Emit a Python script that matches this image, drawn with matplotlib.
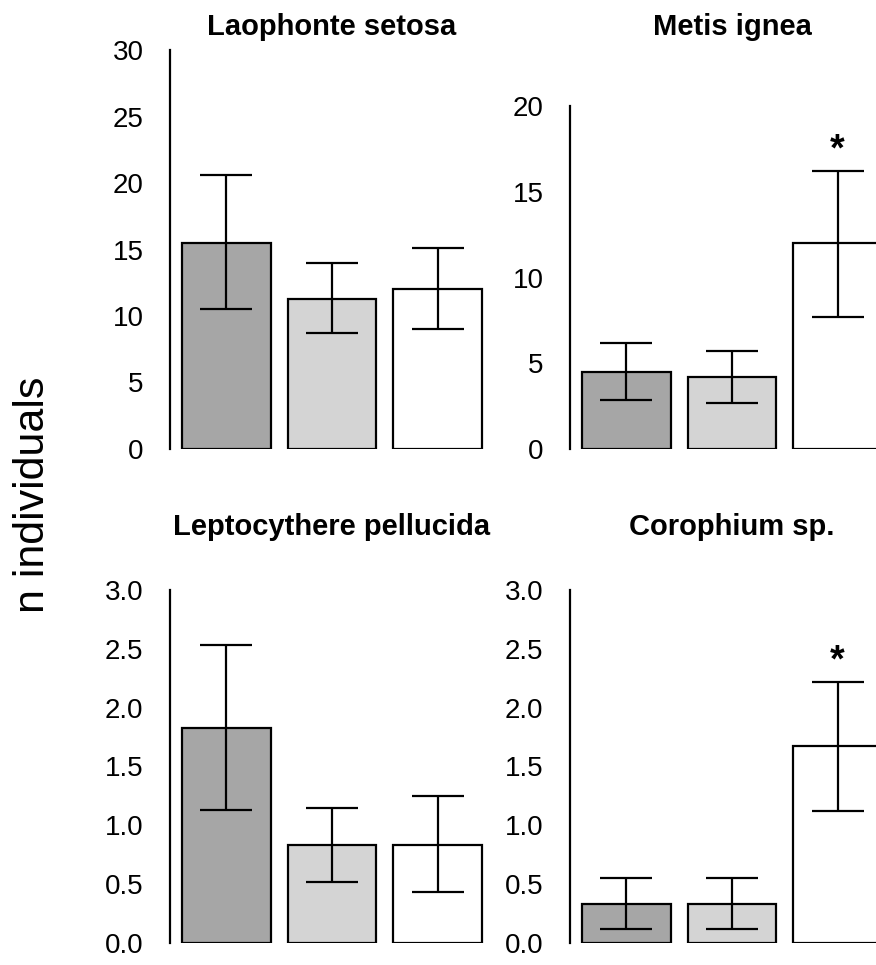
import matplotlib.pyplot as plt
import numpy as np

plt.rcParams['font.family'] = ['Liberation Sans', 'DejaVu Sans']

# data
species = ['Laophonte setosa', 'Metis ignea', 'Leptocythere pellucida', 'Corophium sp.']
means = [
    [15.5, 11.3, 12.0],
    [4.5, 4.2, 12.0],
    [1.83, 0.83, 0.83],
    [0.33, 0.33, 1.67],
]
upper = [
    [20.6, 14.0, 15.1],
    [6.2, 5.7, 16.2],
    [2.53, 1.15, 1.25],
    [0.55, 0.55, 2.22],
]
lower = [
    [10.5, 8.7, 9.0],
    [2.85, 2.7, 7.7],
    [1.13, 0.52, 0.43],
    [0.12, 0.12, 1.12],
]
ymax = [30, 20, 3.0, 3.0]
ystep = [5, 5, 0.5, 0.5]
stars = [None, 2, None, 2]
bar_colors = ['#a6a6a6', '#d4d4d4', '#ffffff']

W, H = 876, 965
fig = plt.figure(figsize=(W / 100, H / 100), dpi=100)

# axes boxes in pixels: left, zero-line y, top y
boxes = [(170, 449, 50), (570, 449, 106), (170, 943, 590), (570, 943, 590)]
ax_w = 324
title_y = [27, 27, 527, 527]

for i, name in enumerate(species):
    left, y0, ytop = boxes[i]
    ax = fig.add_axes([left / W, (H - y0) / H, ax_w / W, (y0 - ytop) / H])
    x = np.arange(3)
    m = np.array(means[i])
    err = [m - np.array(lower[i]), np.array(upper[i]) - m]
    ax.bar(x, m, width=0.84, color=bar_colors, edgecolor='black', linewidth=1.6, zorder=2)
    ax.errorbar(x, m, yerr=err, fmt='none', ecolor='black', elinewidth=1.6,
                capsize=19, capthick=1.6, zorder=3)
    ax.set_xlim(-0.534, 2.534)
    ax.set_ylim(0, ymax[i])
    ticks = np.arange(0, ymax[i] + ystep[i] / 2, ystep[i])
    ax.set_yticks(ticks)
    if ystep[i] < 1:
        ax.set_yticklabels([f'{t:.1f}' for t in ticks])
    else:
        ax.set_yticklabels([f'{int(t)}' for t in ticks])
    ax.tick_params(axis='y', length=0, pad=19, labelsize=20)
    ax.set_xticks([])
    for s in ['top', 'right', 'bottom']:
        ax.spines[s].set_visible(False)
    ax.spines['left'].set_linewidth(1.6)
    ax.patch.set_alpha(0)
    if stars[i] is not None:
        k = stars[i]
        ax.annotate('*', xy=(k, upper[i][k]), xytext=(0, 2), textcoords='offset points',
                    ha='center', va='bottom', fontsize=27, fontweight='bold')
    fig.text((left + ax_w / 2) / W, 1 - title_y[i] / H, name, ha='center', va='center',
             fontsize=21, fontweight='bold')

fig.text(33 / W, 1 - 495 / H, 'n individuals', rotation=90, ha='center', va='center', fontsize=31)

fig.savefig('out.png', dpi=100)
